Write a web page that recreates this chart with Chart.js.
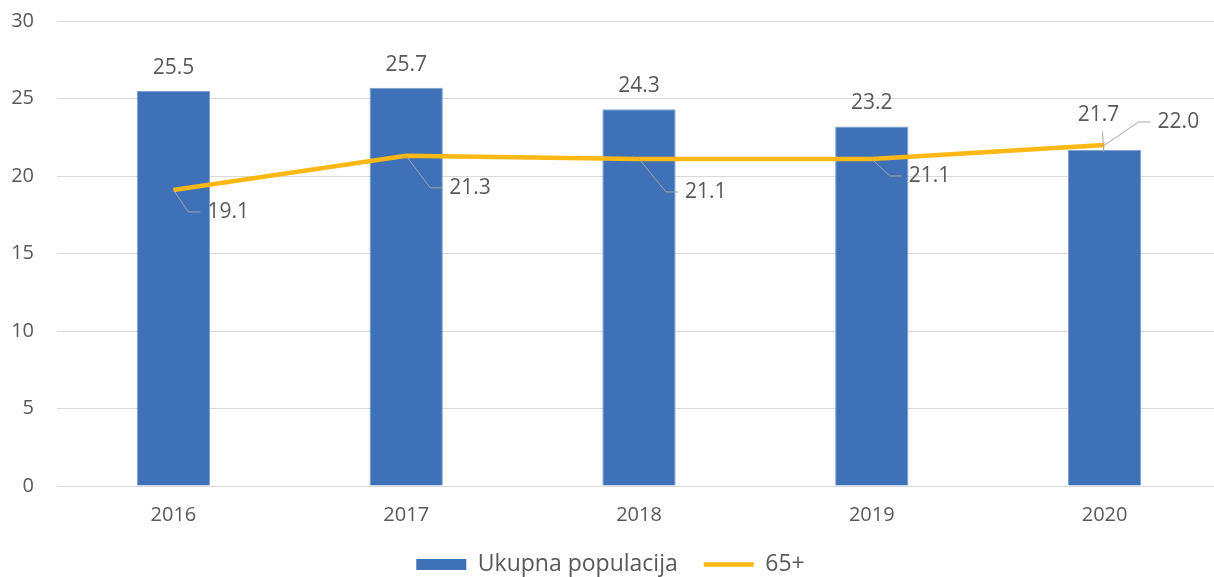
<!DOCTYPE html>
<html>
<head>
<meta charset="utf-8">
<script src="https://cdn.jsdelivr.net/npm/chart.js@4/dist/chart.umd.min.js"></script>
<style>
  html, body { margin: 0; padding: 0; background: #fff; overflow: hidden; }
  /* plot area of the source runs a few px past the right edge */
  #wrap { width: 1221px; height: 577px; position: relative; }
</style>
</head>
<body>
<div id="wrap"><canvas id="chart"></canvas></div>
<script>
// chart values
const years = ['2016', '2017', '2018', '2019', '2020'];
const totalPopulation = [25.5, 25.7, 24.3, 23.2, 21.7];
const population65 = [19.1, 21.3, 21.1, 21.1, 22.0];
const seriesNames = ['Ukupna populacija', '65+'];
const yMin = 0, yMax = 30, yStep = 5;

const TEXT = '#595959';
const FONT = "'Open Sans', sans-serif";

/**
 * Value labels, excel style, with leader lines for the line series
 */
const valueLabels = {
  id: 'valueLabels',
  afterDatasetsDraw(chart, args, opts) {
    const ctx = chart.ctx;
    ctx.save();
    ctx.font = `21px ${FONT}`;
    ctx.fillStyle = TEXT;
    ctx.strokeStyle = '#a6a6a6';
    ctx.lineWidth = 1;
    ctx.textBaseline = 'middle';

    // bars
    const bars = chart.getDatasetMeta(0).data;
    bars.forEach((bar, i) => {
      const [dx, dy] = opts.barOffsets[i];
      const lx = bar.x + dx, ly = bar.y + dy;
      ctx.textAlign = 'center';
      ctx.fillText(totalPopulation[i].toFixed(1), lx, ly);
      if (dy < -30) {
        ctx.beginPath();
        ctx.moveTo(bar.x - 2, ly + 17);
        ctx.lineTo(bar.x - 1, bar.y + 2);
        ctx.stroke();
      }
    });

    // line
    const pts = chart.getDatasetMeta(1).data;
    pts.forEach((pt, i) => {
      const [dx, dy] = opts.lineOffsets[i];
      const tx = pt.x + dx, ty = pt.y + dy;
      ctx.beginPath();
      ctx.moveTo(pt.x, pt.y);
      ctx.lineTo(tx - 19, ty);
      ctx.lineTo(tx - 7, ty);
      ctx.stroke();
      ctx.textAlign = 'left';
      ctx.fillText(population65[i].toFixed(1), tx, ty);
    });
    ctx.restore();
  }
};

new Chart(document.getElementById('chart'), {
  type: 'bar',
  data: {
    labels: years,
    datasets: [
      {
        type: 'bar',
        label: seriesNames[0],
        data: totalPopulation,
        backgroundColor: '#3f71b8',
        borderColor: '#7d9fd3',
        borderWidth: { left: 1, right: 1, top: 1, bottom: 0 },
        barPercentage: 0.315,
        categoryPercentage: 1,
        order: 2,
      },
      {
        type: 'line',
        label: seriesNames[1],
        data: population65,
        borderColor: '#fdb813',
        backgroundColor: '#fdb813',
        borderWidth: 4.5,
        pointRadius: 0,
        tension: 0,
        order: 1,
      },
    ],
  },
  options: {
    responsive: true,
    maintainAspectRatio: false,
    animation: false,
    layout: { padding: { top: 21, right: 0, left: 0, bottom: -9 } },
    scales: {
      x: {
        grid: { display: false, drawTicks: false },
        border: { display: false },
        ticks: { color: TEXT, font: { family: FONT, size: 20 }, padding: 17 },
        afterFit(scale) { scale.height = 41; },
      },
      y: {
        min: yMin,
        max: yMax,
        ticks: { stepSize: yStep, color: TEXT, font: { family: FONT, size: 20 }, padding: 23 },
        grid: { color: '#d9d9d9', lineWidth: 1, drawTicks: false },
        border: { display: false },
        afterFit(scale) {
          scale.width = 57;
          scale.paddingTop = 0;
          scale.paddingBottom = 0;
        },
      },
    },
    plugins: {
      tooltip: { enabled: false },
      legend: {
        position: 'bottom',
        labels: {
          usePointStyle: true,
          pointStyleWidth: 50,
          boxHeight: 11,
          padding: 26,
          color: TEXT,
          font: { family: FONT, size: 23 },
          generateLabels(chart) {
            return chart.data.datasets.map((ds, i) => ({
              text: ds.label,
              fillStyle: ds.backgroundColor,
              strokeStyle: ds.borderColor,
              lineWidth: i === 0 ? 0 : 4.5,
              pointStyle: i === 0 ? 'rect' : 'line',
              fontColor: TEXT,
              hidden: false,
              datasetIndex: i,
            }));
          },
        },
      },
      valueLabels: {
        barOffsets: [[0, -23], [0, -23], [0, -23], [0, -23], [-6, -35]],
        lineOffsets: [[34, 22], [43, 32], [46, 33], [37, 17], [53, -23]],
      },
    },
  },
  plugins: [valueLabels],
});
</script>
</body>
</html>
